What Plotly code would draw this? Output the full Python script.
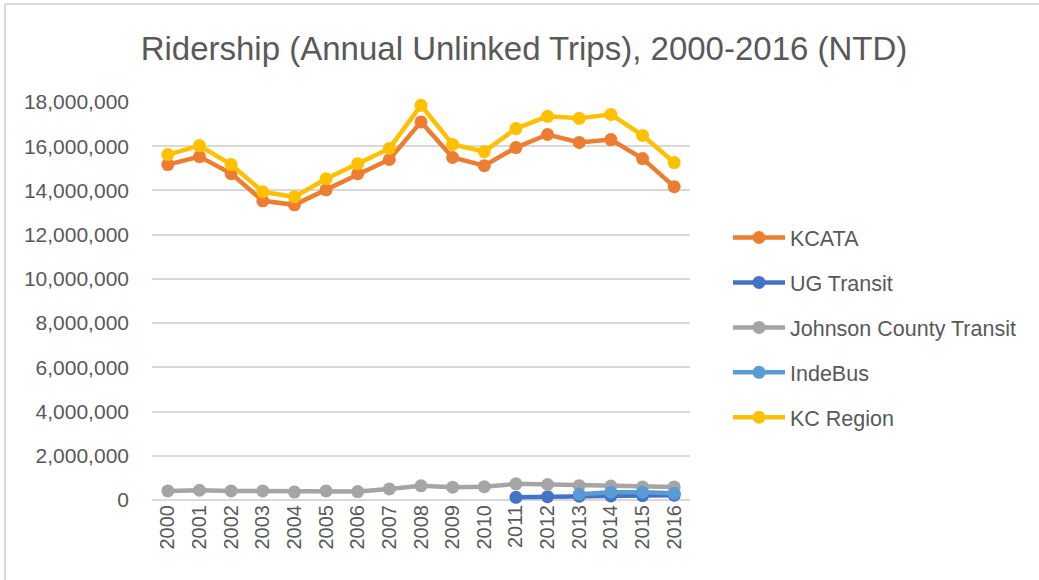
import plotly.graph_objects as go

years = [str(y) for y in range(2000, 2017)]
kcata = [15170000, 15530000, 14760000, 13530000, 13350000, 14030000, 14760000, 15400000,
         17100000, 15490000, 15120000, 15940000, 16530000, 16170000, 16300000, 15440000, 14170000]
ug_years = years[11:]
ug_transit = [120000, 150000, 170000, 180000, 200000, 220000]
jct = [410000, 440000, 410000, 410000, 360000, 410000, 380000, 500000, 640000, 580000,
       600000, 730000, 700000, 650000, 630000, 590000, 590000]
inde_years = years[13:]
indebus = [260000, 350000, 350000, 300000]
kc_region = [15620000, 16030000, 15170000, 13940000, 13710000, 14530000, 15210000, 15900000,
             17850000, 16080000, 15760000, 16800000, 17350000, 17260000, 17440000, 16490000, 15260000]
y_ticks = list(range(0, 18000001, 2000000))

W, H = 1039, 580
L, R, T, B = 152, 349, 102, 80
pw, ph = W - L - R, H - T - B

series = [
    ("KCATA", years, kcata, "#ED7D31"),
    ("UG Transit", ug_years, ug_transit, "#4472C4"),
    ("Johnson County Transit", years, jct, "#A5A5A5"),
    ("IndeBus", inde_years, indebus, "#5B9BD5"),
    ("KC Region", years, kc_region, "#FFC000"),
]

fig = go.Figure()
for name, xs, ys, col in series:
    fig.add_trace(go.Scatter(
        x=xs, y=ys, name=name, mode="lines+markers", legendgroup=name,
        line=dict(color=col, width=4.5),
        marker=dict(color=col, size=13),
        cliponaxis=False,
    ))

font = "Liberation Sans, Arial, sans-serif"
fig.update_layout(
    width=W, height=H,
    margin=dict(l=L, r=R, t=T, b=B),
    paper_bgcolor="white", plot_bgcolor="white",
    title=dict(text="Ridership (Annual Unlinked Trips), 2000-2016 (NTD)",
               x=(524) / W, xanchor="center", y=1 - 48 / H, yanchor="middle",
               font=dict(family=font, size=33, color="#595959")),
    font=dict(family=font, color="#595959"),
    showlegend=True,
    legend=dict(x=(728 - L) / pw, xanchor="left", y=(H - B - 217) / ph, yanchor="top",
                font=dict(family=font, size=21.5, color="#595959"),
                tracegroupgap=14, bgcolor="rgba(0,0,0,0)", itemwidth=52),
    xaxis=dict(type="category", categoryorder="array", categoryarray=years,
               range=[-0.5, 16.5], showgrid=False, tickangle=-90,
               tickfont=dict(size=20, color="#595959"), ticks="",
               showline=False, zeroline=False, fixedrange=True),
    yaxis=dict(range=[0, 18000000], tickvals=y_ticks, tickformat=",d",
               showgrid=True, gridcolor="#D9D9D9", gridwidth=1.5,
               zeroline=True, zerolinecolor="#D9D9D9", zerolinewidth=1.5,
               tickfont=dict(size=21, color="#595959"), ticks="",
               ticklabelstandoff=22, showline=False),
    shapes=[
        dict(type="line", xref="paper", yref="paper",
             x0=(5 - L) / pw, x1=(W + 5 - L) / pw, y0=(H - B - 4) / ph, y1=(H - B - 4) / ph,
             line=dict(color="#D9D9D9", width=2)),
        dict(type="line", xref="paper", yref="paper",
             x0=(5 - L) / pw, x1=(5 - L) / pw, y0=(H - B - 4) / ph, y1=-B / ph - 0.05,
             line=dict(color="#D9D9D9", width=2)),
    ],
)

fig.write_html("out.html", config={"displayModeBar": False},
               post_script="document.body.style.margin='0';")
